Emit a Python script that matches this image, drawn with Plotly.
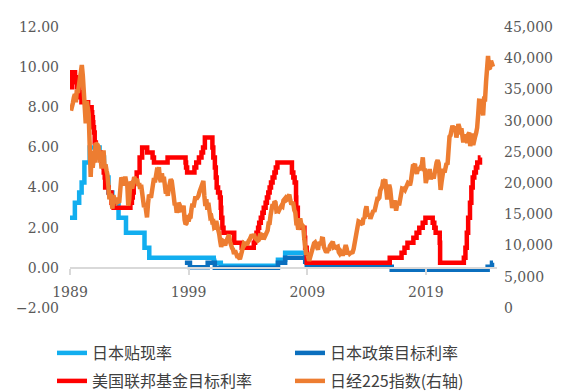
import pandas as pd
import plotly.graph_objects as go

# ---- Bank of Japan official discount rate (%), change dates and new levels ----
jp_disc_dates = ["1989-01-01", "1989-05-31", "1989-10-11", "1989-12-25", "1990-03-20",
                 "1990-08-30", "1991-07-01", "1991-11-14", "1991-12-30", "1992-04-01",
                 "1992-07-27", "1993-02-04", "1993-09-21", "1995-04-14", "1995-09-08",
                 "2001-02-13", "2001-03-01", "2001-09-19", "2006-07-14", "2007-02-21",
                 "2008-10-31", "2008-12-19", "2009-01-31"]
jp_disc_vals = [2.5, 3.25, 3.75, 4.25, 5.25,
                6.0, 5.5, 5.0, 4.5, 3.75,
                3.25, 2.5, 1.75, 1.0, 0.5,
                0.35, 0.25, 0.1, 0.4, 0.75,
                0.5, 0.3, 0.3]

# ---- Bank of Japan policy target rate (%) ----
jp_policy_dates = ["1998-09-09", "1999-02-12", "2000-08-11", "2001-03-19", "2006-07-14",
                   "2007-02-21", "2008-10-31", "2008-12-19", "2010-10-05", "2016-02-16",
                   "2024-03-19", "2024-07-31", "2024-08-31"]
jp_policy_vals = [0.25, 0.03, 0.25, 0.0, 0.25,
                  0.5, 0.3, 0.1, 0.05, -0.1,
                  0.05, 0.25, 0.25]

# ---- US federal funds target rate (%) ----
fed_dates = ["1989-01-01", "1989-02-24", "1989-06-06", "1989-07-07", "1989-07-27", "1989-10-18",
             "1989-11-06", "1989-12-20", "1990-07-13", "1990-10-29", "1990-11-14", "1990-12-07",
             "1990-12-19", "1991-01-09", "1991-02-01", "1991-03-08", "1991-04-30", "1991-08-06",
             "1991-09-13", "1991-10-31", "1991-11-06", "1991-12-06", "1991-12-20", "1992-04-09",
             "1992-07-02", "1992-09-04", "1994-02-04", "1994-03-22", "1994-04-18", "1994-05-17",
             "1994-08-16", "1994-11-15", "1995-02-01", "1995-07-06", "1995-12-19", "1996-01-31",
             "1997-03-25", "1998-09-29", "1998-10-15", "1998-11-17", "1999-06-30", "1999-08-24",
             "1999-11-16", "2000-02-02", "2000-03-21", "2000-05-16", "2001-01-03", "2001-01-31",
             "2001-03-20", "2001-04-18", "2001-05-15", "2001-06-27", "2001-08-21", "2001-09-17",
             "2001-10-02", "2001-11-06", "2001-12-11", "2002-11-06", "2003-06-25", "2004-06-30",
             "2004-08-10", "2004-09-21", "2004-11-10", "2004-12-14", "2005-02-02", "2005-03-22",
             "2005-05-03", "2005-06-30", "2005-08-09", "2005-09-20", "2005-11-01", "2005-12-13",
             "2006-01-31", "2006-03-28", "2006-05-10", "2006-06-29", "2007-09-18", "2007-10-31",
             "2007-12-11", "2008-01-22", "2008-01-30", "2008-03-18", "2008-04-30", "2008-10-08",
             "2008-10-29", "2008-12-16", "2015-12-17", "2016-12-15", "2017-03-16", "2017-06-15",
             "2017-12-14", "2018-03-22", "2018-06-14", "2018-09-27", "2018-12-20", "2019-08-01",
             "2019-09-19", "2019-10-31", "2020-03-04", "2020-03-16", "2022-03-17", "2022-05-05",
             "2022-06-16", "2022-07-28", "2022-09-22", "2022-11-03", "2022-12-15", "2023-02-02",
             "2023-03-23", "2023-05-04", "2023-07-27", "2023-08-15"]
fed_vals = [9.0, 9.75, 9.5, 9.25, 9.0, 8.75,
            8.5, 8.25, 8.0, 7.75, 7.5, 7.25,
            7.0, 6.75, 6.25, 6.0, 5.75, 5.5,
            5.25, 5.0, 4.75, 4.5, 4.0, 3.75,
            3.25, 3.0, 3.25, 3.5, 3.75, 4.25,
            4.75, 5.5, 6.0, 5.75, 5.5, 5.25,
            5.5, 5.25, 5.0, 4.75, 5.0, 5.25,
            5.5, 5.75, 6.0, 6.5, 6.0, 5.5,
            5.0, 4.5, 4.0, 3.75, 3.5, 3.0,
            2.5, 2.0, 1.75, 1.25, 1.0, 1.25,
            1.5, 1.75, 2.0, 2.25, 2.5, 2.75,
            3.0, 3.25, 3.5, 3.75, 4.0, 4.25,
            4.5, 4.75, 5.0, 5.25, 4.75, 4.5,
            4.25, 3.5, 3.0, 2.25, 2.0, 1.5,
            1.0, 0.25, 0.5, 0.75, 1.0, 1.25,
            1.5, 1.75, 2.0, 2.25, 2.5, 2.25,
            2.0, 1.75, 1.25, 0.25, 0.5, 1.0,
            1.75, 2.5, 3.25, 4.0, 4.5, 4.75,
            5.0, 5.25, 5.5, 5.5]

# ---- Nikkei 225 month-end close, Jan 1989 – Aug 2024 ----
nikkei_start = "1989-01-31"
nikkei_vals = [
    31581, 31986, 32839, 33713, 34267, 32949, 34954, 34431, 35637, 35549, 37269, 38916,
    37189, 34592, 29980, 29585, 33131, 31940, 31036, 25978, 20984, 25194, 22455, 23849,
    23293, 26409, 26292, 26111, 25790, 23291, 24121, 22336, 23917, 25222, 22687, 22984,
    22023, 21339, 19346, 17391, 18348, 15952, 15910, 18061, 17399, 16767, 17684, 16925,
    17024, 17097, 18591, 20919, 20552, 19591, 20380, 21027, 20106, 19703, 16408, 17417,
    20229, 19997, 19112, 19725, 20974, 20644, 20462, 20629, 19564, 19990, 19076, 19723,
    18650, 17053, 16140, 16807, 15437, 14517, 16678, 18117, 17913, 17655, 18744, 19868,
    20813, 20125, 21407, 22041, 21956, 22531, 20693, 20167, 21556, 20467, 21020, 19361,
    18330, 18557, 18003, 19151, 20069, 20605, 20331, 18229, 17888, 16459, 16636, 15259,
    16628, 16832, 16527, 15641, 15671, 15830, 16379, 14108, 13406, 13565, 14884, 13842,
    14499, 14368, 15837, 16701, 16112, 17530, 17862, 17437, 17605, 17942, 18558, 18934,
    19540, 19960, 20337, 17974, 16332, 17411, 15727, 16861, 15747, 14539, 14649, 13786,
    13844, 12884, 12999, 13934, 13262, 12969, 11861, 10714, 9775, 10367, 10697, 10543,
    9998, 10588, 11025, 11493, 11764, 10622, 9878, 9619, 9383, 8640, 9216, 8579,
    8340, 8363, 7973, 7831, 8425, 9083, 9563, 10344, 10219, 10560, 10101, 10677,
    10784, 11042, 11715, 11762, 11237, 11859, 11326, 11082, 10824, 10771, 10900, 11489,
    11388, 11741, 11669, 11009, 11277, 11584, 11900, 12414, 13574, 13607, 14872, 16111,
    16650, 16205, 17060, 16906, 15467, 15505, 15457, 16141, 16128, 16399, 16274, 17226,
    17383, 17604, 17288, 17400, 17876, 18138, 17249, 16569, 16786, 16738, 15681, 15308,
    13592, 13603, 12526, 13850, 14339, 13481, 13377, 13073, 11260, 8577, 8512, 8860,
    7994, 7568, 8110, 8828, 9523, 9958, 10357, 10493, 10133, 10035, 9346, 10546,
    10198, 10126, 11090, 11057, 9769, 9383, 9537, 8824, 9369, 9202, 9937, 10229,
    10238, 10624, 9755, 9850, 9694, 9816, 9833, 8955, 8700, 8988, 8435, 8455,
    8803, 9723, 10084, 9521, 8543, 9007, 8695, 8840, 8870, 8928, 9446, 10395,
    11139, 11559, 12398, 13861, 13775, 13677, 13668, 13389, 14456, 14328, 15662, 16291,
    14915, 14841, 14828, 14304, 14632, 15162, 15621, 15425, 16174, 16414, 17460, 17451,
    17674, 18798, 19207, 19520, 20563, 20236, 20585, 18890, 17388, 19083, 19747, 19034,
    17518, 16027, 16759, 16666, 17235, 15576, 16569, 16887, 16450, 17425, 18308, 19114,
    19041, 19119, 18909, 19197, 19651, 20033, 19925, 19646, 20356, 22012, 22725, 22765,
    23098, 22068, 21454, 22468, 22202, 22305, 22554, 22865, 24120, 21920, 22351, 20015,
    20773, 21385, 21206, 22259, 20601, 21276, 21522, 20704, 21756, 22927, 23294, 23657,
    23205, 21143, 18917, 20194, 21878, 22288, 21710, 23140, 23185, 22977, 26434, 27444,
    27663, 28966, 29179, 28813, 28860, 28792, 27284, 28090, 29453, 28893, 27822, 28792,
    27002, 26527, 27821, 26848, 27280, 26393, 27802, 28092, 25937, 27587, 27969, 26095,
    27327, 27446, 28041, 28856, 30888, 33189, 33172, 32619, 31858, 30859, 33487, 33464,
    36287, 39166, 40369, 38406, 38488, 39583, 39102, 38648,
]
nikkei_dates = pd.date_range(nikkei_start, periods=len(nikkei_vals), freq="ME")

year_ticks = ["1989", "1999", "2009", "2019"]

names = ["日本贴现率", "日本政策目标利率", "美国联邦基金目标利率", "日经225指数(右轴)"]
colors = ["#12AEEF", "#0B6FBE", "#FF0000", "#ED7D31"]

num_font = dict(family="'DejaVu Serif', 'Liberation Serif', serif", size=14, color="#595959")
leg_font = dict(family="'Noto Sans CJK SC', sans-serif", size=16, color="#404040")
LW = 4.5

fig = go.Figure()
fig.add_trace(go.Scatter(x=jp_disc_dates, y=jp_disc_vals, name=names[0], mode="lines",
                         line=dict(color=colors[0], width=LW, shape="hv"), legend="legend"))
fig.add_trace(go.Scatter(x=jp_policy_dates, y=jp_policy_vals, name=names[1], mode="lines",
                         line=dict(color=colors[1], width=LW, shape="hv"), legend="legend"))
fig.add_trace(go.Scatter(x=fed_dates, y=fed_vals, name=names[2], mode="lines",
                         line=dict(color=colors[2], width=LW, shape="hv"), legend="legend2"))
fig.add_trace(go.Scatter(x=nikkei_dates, y=nikkei_vals, name=names[3], mode="lines",
                         line=dict(color=colors[3], width=LW), yaxis="y2", legend="legend2"))

# plot area spans x 70..497 and y 27..308 in pixels
PLOT_W, PLOT_H, PLOT_B = 427, 281, 308
legend_common = dict(orientation="h", x=(52 - 70) / PLOT_W, xanchor="left", yanchor="middle",
                     entrywidth=193, entrywidthmode="pixels", font=leg_font,
                     bgcolor="rgba(0,0,0,0)", borderwidth=0)

fig.update_layout(
    width=561, height=392,
    margin=dict(l=70, r=64, t=27, b=84, autoexpand=False),
    plot_bgcolor="white", paper_bgcolor="white",
    showlegend=True,
    xaxis=dict(
        type="date", range=["1989-01-01", "2025-01-01"],
        tickvals=[f"{y}-01-01" for y in year_ticks], ticktext=year_ticks,
        anchor="free", position=2 / 14,
        showline=True, linecolor="#D9D9D9", linewidth=1.5,
        ticks="outside", ticklen=6, tickcolor="#D9D9D9", tickwidth=1.5,
        ticklabelstandoff=6,
        showgrid=False, zeroline=False, tickfont=num_font,
    ),
    yaxis=dict(
        range=[-2, 12], dtick=2, tick0=0, tickformat=".2f",
        showgrid=False, zeroline=False, showline=False,
        tickfont=num_font, ticklabelstandoff=10,
    ),
    yaxis2=dict(
        range=[0, 45000], dtick=5000, tick0=0, tickformat=",d",
        overlaying="y", side="right",
        showgrid=False, zeroline=False, showline=False,
        tickfont=num_font, ticklabelstandoff=6,
    ),
    legend=dict(legend_common, y=(PLOT_B - 353) / PLOT_H),
    legend2=dict(legend_common, y=(PLOT_B - 381) / PLOT_H),
)

fig.write_html("out.html")
